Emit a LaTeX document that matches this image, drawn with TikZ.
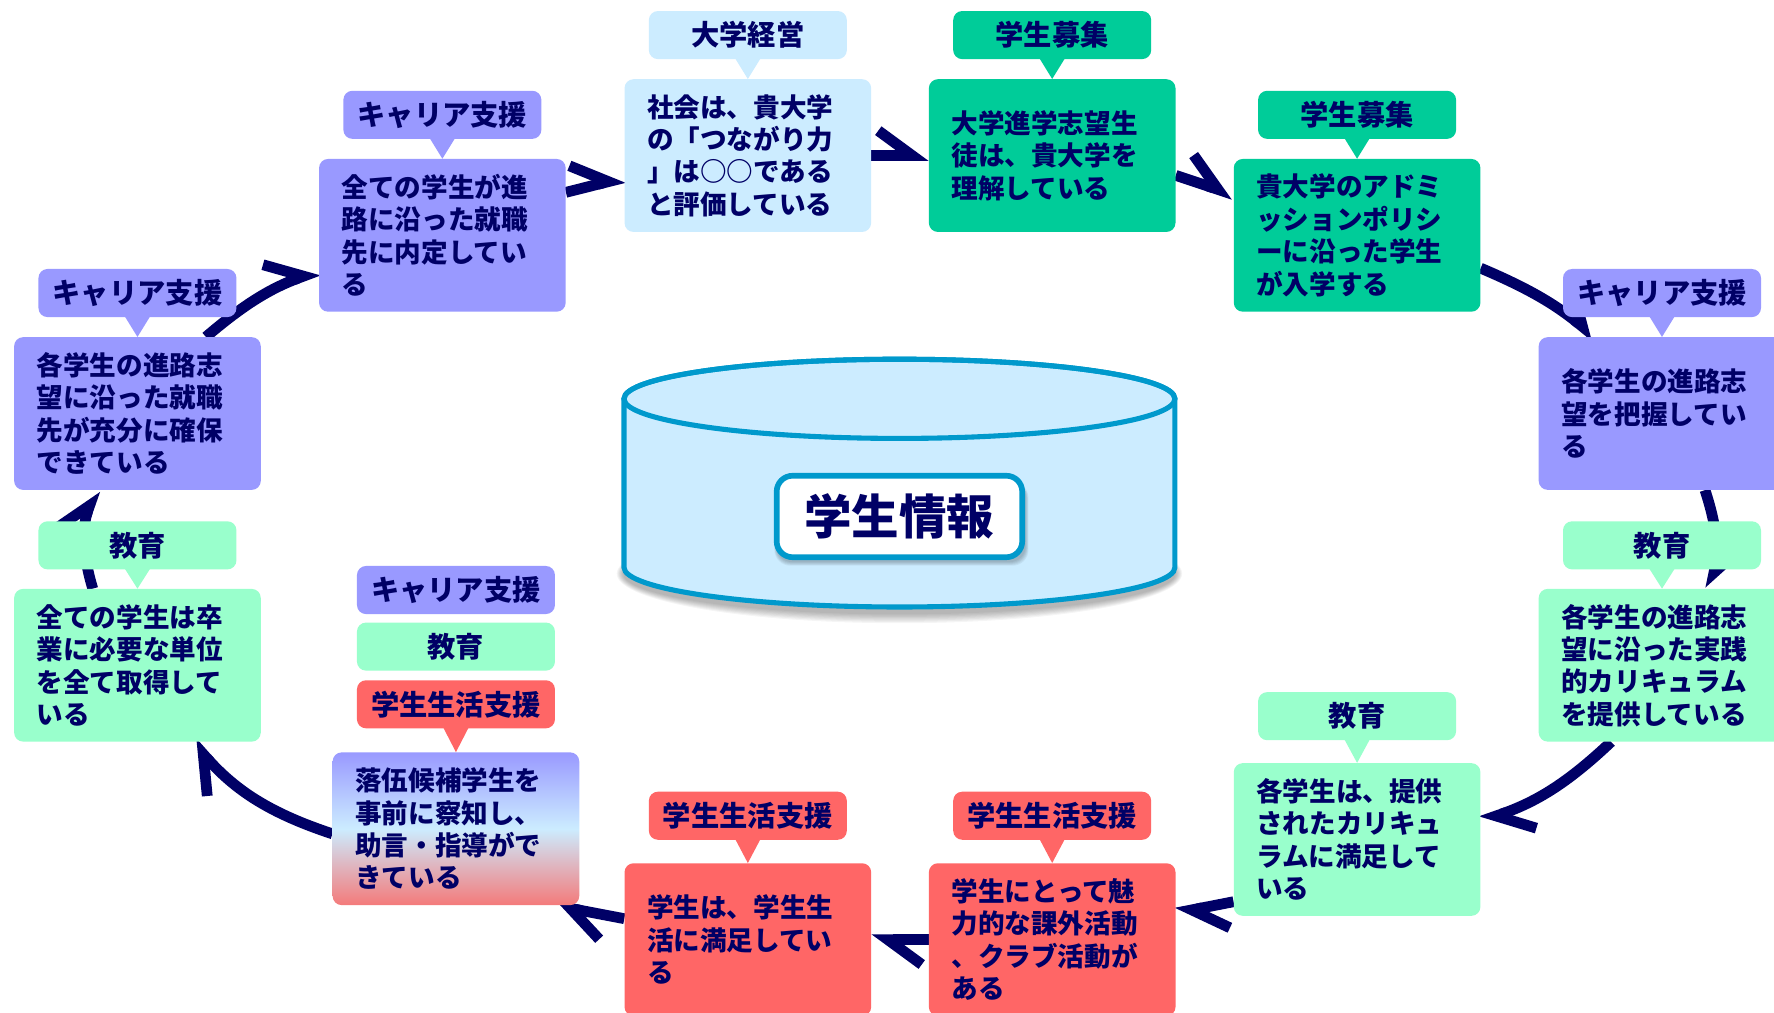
\documentclass[tikz,border=0pt]{standalone}
\usepackage{fontspec}
\newfontfamily\jpfont{Noto Sans CJK JP}
\usetikzlibrary{arrows.meta,calc}
\pgfdeclarelayer{bg}
\pgfsetlayers{bg,main}
\definecolor{navy}{HTML}{000066}
\definecolor{cLB}{HTML}{CCECFF}
\definecolor{cGR}{HTML}{00CC99}
\definecolor{cPU}{HTML}{9999FF}
\definecolor{cLG}{HTML}{99FFCC}
\definecolor{cRD}{HTML}{FF6666}
\definecolor{cCY}{HTML}{0099CC}
\definecolor{cRB}{HTML}{F47A7A}
\newcommand\myboxfont{\jpfont\bfseries\fontsize{23.5pt}{28.6pt}\selectfont}
\newcommand\mytagfont{\jpfont\bfseries\fontsize{25pt}{30pt}\selectfont}
\newcommand\mybigfont{\jpfont\bfseries\fontsize{42pt}{50pt}\selectfont}
\begin{document}
\begin{tikzpicture}[x=1pt,y=1pt,
  box/.style={rounded corners=8pt, minimum width=218pt, minimum height=135pt,
    text width=178pt, inner xsep=20pt, inner ysep=0pt, align=left,
    font=\myboxfont, text=navy},
  tag/.style={rounded corners=8pt, minimum width=175pt, minimum height=42.5pt,
    inner sep=0pt, align=center, font=\mytagfont, text=navy},
  ring/.style={draw=navy, line width=9.5pt,
    -{Straight Barb[harpoon, length=30pt, width=44pt]}}]
\useasboundingbox (0,0) rectangle (1568,-895);

% central cylinder
\foreach \k in {1,...,8}
  \fill[black, opacity=0.04] (795,-507) ellipse [x radius={243.5+\k*0.8}, y radius={35+\k*1.1}];
\filldraw[fill=cLB, draw=cCY, line width=4.5pt]
  (551.5,-352.5) -- (551.5,-501.5)
  arc[start angle=180, end angle=360, x radius=243.5, y radius=35]
  -- (1038.5,-352.5)
  arc[start angle=0, end angle=180, x radius=243.5, y radius=35] -- cycle;
\draw[draw=cCY, line width=4.5pt] (795,-352.5) ellipse [x radius=243.5, y radius=35];
\foreach \k in {1,...,5}
  \fill[black, opacity=0.05, rounded corners=14pt]
    ({686.5-\k*0.4},{-496-\k*0.8}) rectangle ({906+\k*0.6},-426);
\node[draw=cCY, line width=5pt, fill=white, rounded corners=14pt,
  minimum width=217pt, minimum height=72pt, inner sep=0pt,
  font=\mybigfont, text=navy] (DB) at (795,-456.5) {学生情報};

% boxes
\node[box, fill=cLB] (B1) at (661,-137.5) {社会は、貴大学\\の「つながり力\\」は○○である\\と評価している};
\node[box, fill=cGR] (B2) at (930,-137.5) {大学進学志望生\\徒は、貴大学を\\理解している};
\node[box, fill=cGR] (B3) at (1199.5,-208) {貴大学のアドミ\\ッションポリシ\\ーに沿った学生\\が入学する};
\node[box, fill=cPU] (B4) at (1469,-365.5) {各学生の進路志\\望を把握してい\\る};
\node[box, fill=cLG] (B5) at (1469,-588) {各学生の進路志\\望に沿った実践\\的カリキュラム\\を提供している};
\node[box, fill=cLG] (B6) at (1199.5,-742) {各学生は、提供\\されたカリキュ\\ラムに満足して\\いる};
\node[box, fill=cRD] (B7) at (930,-830.5) {学生にとって魅\\力的な課外活動\\、クラブ活動が\\ある};
\node[box, fill=cRD] (B8) at (661,-830.5) {学生は、学生生\\活に満足してい\\る};
\node[box, top color=cPU, bottom color=cRB, middle color=cLB] (B9) at (403,-732.5) {落伍候補学生を\\事前に察知し、\\助言・指導がで\\きている};
\node[box, fill=cLG] (B10) at (121.5,-588) {全ての学生は卒\\業に必要な単位\\を全て取得して\\いる};
\node[box, fill=cPU] (B11) at (121.5,-365.5) {各学生の進路志\\望に沿った就職\\先が充分に確保\\できている};
\node[box, fill=cPU] (B12) at (391,-208) {全ての学生が進\\路に沿った就職\\先に内定してい\\る};

% tags
\node[tag, fill=cLB] (L1) at (661,-31) {大学経営};
\node[tag, fill=cGR] (L2) at (930,-31) {学生募集};
\node[tag, fill=cGR] (L3) at (1199.5,-101.5) {学生募集};
\node[tag, fill=cPU] (L4) at (1469,-259) {キャリア支援};
\node[tag, fill=cLG] (L5) at (1469,-482) {教育};
\node[tag, fill=cLG] (L6) at (1199.5,-633) {教育};
\node[tag, fill=cRD] (L7) at (930,-721) {学生生活支援};
\node[tag, fill=cRD] (L8) at (661,-721) {学生生活支援};
\node[tag, fill=cPU] (L9a) at (403,-521.5) {キャリア支援};
\node[tag, fill=cLG] (L9b) at (403,-571.5) {教育};
\node[tag, fill=cRD] (L9c) at (403,-622.5) {学生生活支援};
\node[tag, fill=cLG] (L10) at (121.5,-482) {教育};
\node[tag, fill=cPU] (L11) at (121.5,-259) {キャリア支援};
\node[tag, fill=cPU] (L12) at (391,-101.5) {キャリア支援};

% pointers
\fill[cLB] ($(L1.south)+(-11,0.5)$) -- ($(L1.south)+(11,0.5)$) -- (B1.north) -- cycle;
\fill[cGR] ($(L2.south)+(-11,0.5)$) -- ($(L2.south)+(11,0.5)$) -- (B2.north) -- cycle;
\fill[cGR] ($(L3.south)+(-11,0.5)$) -- ($(L3.south)+(11,0.5)$) -- (B3.north) -- cycle;
\fill[cPU] ($(L4.south)+(-11,0.5)$) -- ($(L4.south)+(11,0.5)$) -- (B4.north) -- cycle;
\fill[cLG] ($(L5.south)+(-11,0.5)$) -- ($(L5.south)+(11,0.5)$) -- (B5.north) -- cycle;
\fill[cLG] ($(L6.south)+(-11,0.5)$) -- ($(L6.south)+(11,0.5)$) -- (B6.north) -- cycle;
\fill[cRD] ($(L7.south)+(-11,0.5)$) -- ($(L7.south)+(11,0.5)$) -- (B7.north) -- cycle;
\fill[cRD] ($(L8.south)+(-11,0.5)$) -- ($(L8.south)+(11,0.5)$) -- (B8.north) -- cycle;
\fill[cRD] ($(L9c.south)+(-11,0.5)$) -- ($(L9c.south)+(11,0.5)$) -- (B9.north) -- cycle;
\fill[cLG] ($(L10.south)+(-11,0.5)$) -- ($(L10.south)+(11,0.5)$) -- (B10.north) -- cycle;
\fill[cPU] ($(L11.south)+(-11,0.5)$) -- ($(L11.south)+(11,0.5)$) -- (B11.north) -- cycle;
\fill[cPU] ($(L12.south)+(-11,0.5)$) -- ($(L12.south)+(11,0.5)$) -- (B12.north) -- cycle;

% ring connectors
\begin{pgfonlayer}{bg}
\fill[white] (0,0) rectangle (1568,-895);
\draw[ring] ($(B12.east)+(0,38)$) -- ($(B1.west)+(0,-19.5)$);
\draw[ring] (B1.east) -- (B2.west);
\draw[ring] ($(B2.east)+(0,-17.5)$) -- ($(B3.west)+(0,36)$);
\draw[ring] ($(B3.east)+(0,-29)$) to[bend left=8] ($(B4.north)+(-59,0)$);
\draw[ring] ($(B4.south)+(38,0)$) to[bend left=15] ($(B5.north)+(43,0)$);
\draw[ring] ($(B5.south)+(-45,0)$) to[bend left=12] ($(B6.east)+(0,16)$);
\draw[ring] ($(B6.west)+(0,-55)$) -- ($(B7.east)+(0,23.5)$);
\draw[ring] (B7.west) -- (B8.east);
\draw[ring] ($(B8.west)+(0,18.5)$) -- ($(B9.south)+(87,0)$);
\draw[ring] ($(B9.west)+(0,-4.5)$) to[bend left=15] ($(B10.south)+(48.5,0)$);
\draw[ring] ($(B10.north)+(-39.5,0)$) to[bend left=18] ($(B11.south)+(-37.5,0)$);
\draw[ring] ($(B11.north)+(60.5,0)$) to[bend left=10] ($(B12.west)+(0,-31)$);
\end{pgfonlayer}
\end{tikzpicture}
\end{document}
